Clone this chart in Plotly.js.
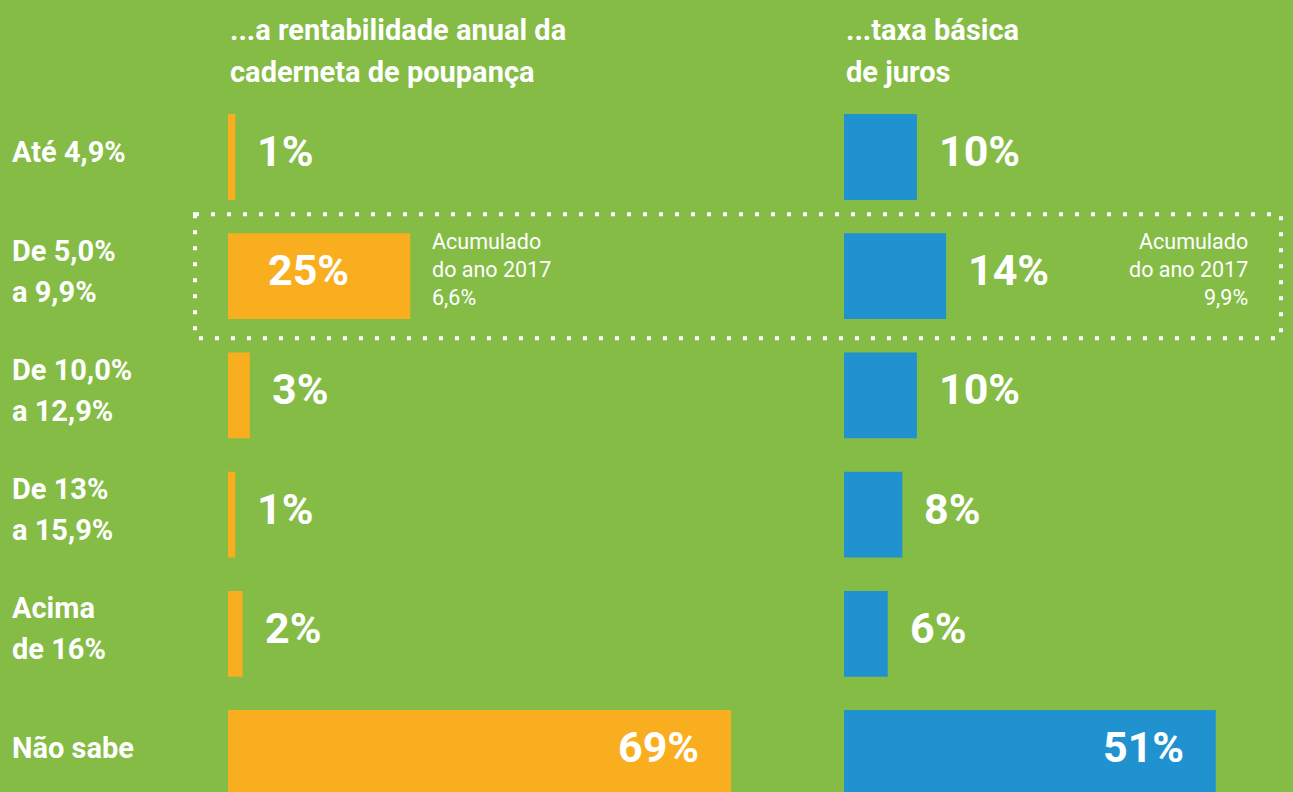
<!DOCTYPE html>
<html>
<head>
<meta charset="utf-8">
<script src="https://cdn.plot.ly/plotly-3.0.1.min.js"></script>
<style>html,body{margin:0;padding:0;background:#84bc46;}#chart{width:1293px;height:792px;}</style>
</head>
<body>
<div id="chart"></div>
<script>
// ---- data ----
const categories = ["Até 4,9%", "De 5,0%<br>a 9,9%", "De 10,0%<br>a 12,9%", "De 13%<br>a 15,9%", "Acima<br>de 16%", "Não sabe"];
const poupancaValues = [1, 25, 3, 1, 2, 69];
const jurosValues = [10, 14, 10, 8, 6, 51];
const poupancaTitle = ["...a rentabilidade anual da", "caderneta de poupança"];
const jurosTitle = ["...taxa básica", "de juros"];
const poupancaNote = ["Acumulado", "do ano 2017", "6,6%"];
const jurosNote = ["Acumulado", "do ano 2017", "9,9%"];
const highlightedCategory = categories[1];

// ---- style ----
const W = 1293, H = 792;
const GREEN = "#84bc46", ORANGE = "#f9ae1f", BLUE = "#2092d0", WHITE = "#ffffff";
const TEXT = "Roboto, sans-serif";
const pxPerPct = 7.29;
const leftStart = 228, leftEnd = 820, rightStart = 844, rightEnd = W;
const rowTop = 157, rowStep = 119.2;

const traces = [
  {type: "bar", orientation: "h", y: categories, x: poupancaValues, xaxis: "x", yaxis: "y",
   marker: {color: ORANGE, line: {width: 0}}, width: 0.72, hoverinfo: "skip"},
  {type: "bar", orientation: "h", y: categories, x: jurosValues, xaxis: "x2", yaxis: "y",
   marker: {color: BLUE, line: {width: 0}}, width: 0.72, hoverinfo: "skip"}
];

const annotations = [];
function valueLabels(values, xref) {
  values.forEach((v, i) => {
    const a = {xref: xref, yref: "y", x: v, y: categories[i], text: v + "%", showarrow: false,
      font: {family: TEXT, size: 43, color: WHITE, weight: 700}, yanchor: "middle", yshift: 6};
    if (v >= 40) { a.xanchor = "right"; a.xshift = -30; }
    else if (v >= 20) { a.x = v / 2; a.xanchor = "center"; a.xshift = -11; }
    else { a.xanchor = "left"; a.xshift = 20; }
    annotations.push(a);
  });
}
valueLabels(poupancaValues, "x");
valueLabels(jurosValues, "x2");

// row labels
categories.forEach((c, i) => {
  const lines = c.split("<br>");
  lines.forEach((ln, j) => {
    annotations.push({xref: "paper", yref: "y", x: 10 / W, y: categories[i], xanchor: "left", yanchor: "middle",
      yshift: (lines.length - 1) * 20.5 - j * 41 + 5, text: ln, showarrow: false,
      font: {family: TEXT, size: 29, color: WHITE, weight: 700}});
  });
});

// panel titles
[[poupancaTitle, leftStart], [jurosTitle, rightStart]].forEach(([t, px]) => {
  t.forEach((ln, j) => {
    annotations.push({xref: "paper", yref: "paper", x: px / W, y: 1 - (30 + j * 42) / H, xanchor: "left", yanchor: "middle",
      text: ln, showarrow: false, font: {family: TEXT, size: 29, color: WHITE, weight: 700}});
  });
});

// notes
poupancaNote.forEach((ln, j) => {
  annotations.push({xref: "x", yref: "y", x: poupancaValues[1], y: highlightedCategory, xanchor: "left", yanchor: "middle",
    xshift: 20, yshift: 35 - j * 28, text: ln, showarrow: false, font: {family: TEXT, size: 21.5, color: WHITE}});
});
jurosNote.forEach((ln, j) => {
  annotations.push({xref: "paper", yref: "y", x: 1250 / W, y: highlightedCategory, xanchor: "right", yanchor: "middle",
    yshift: 35 - j * 28, text: ln, showarrow: false, font: {family: TEXT, size: 21.5, color: WHITE}});
});

const hi = categories.indexOf(highlightedCategory);
const shapes = [{type: "rect", xref: "paper", yref: "y", x0: 195 / W, x1: 1281 / W, y0: hi - 0.52, y1: hi + 0.52,
  line: {color: WHITE, width: 4, dash: "4px,12px"}, fillcolor: "rgba(0,0,0,0)"}];

const layout = {
  width: W, height: H,
  margin: {l: 0, r: 0, t: 0, b: 0, pad: 0},
  paper_bgcolor: GREEN, plot_bgcolor: GREEN,
  showlegend: false,
  xaxis: {domain: [leftStart / W, leftEnd / W], range: [0, (leftEnd - leftStart) / pxPerPct],
    visible: false, fixedrange: true},
  xaxis2: {domain: [rightStart / W, rightEnd / W], range: [0, (rightEnd - rightStart) / pxPerPct],
    visible: false, fixedrange: true, anchor: "y"},
  yaxis: {type: "category", range: [(H - rowTop) / rowStep, -rowTop / rowStep], visible: false, fixedrange: true},
  annotations: annotations,
  shapes: shapes
};

Plotly.newPlot("chart", traces, layout, {displayModeBar: false, staticPlot: true});
</script>
</body>
</html>
